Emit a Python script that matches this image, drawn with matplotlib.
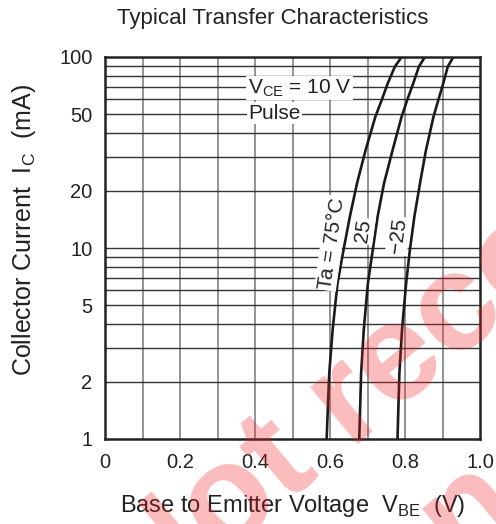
import matplotlib
matplotlib.use("Agg")
import matplotlib.pyplot as plt
from matplotlib.ticker import FixedLocator, NullFormatter

plt.rcParams['font.family'] = ['Liberation Sans', 'DejaVu Sans']

# I_C values (mA) where the curves were read
ic = [1, 2.21, 3.72, 6.53, 9.76, 14.6, 21.8, 32.6, 48.7, 59.6, 72.8, 89, 100]
# V_BE (V) for each temperature
vbe_75 = [0.591, 0.598, 0.607, 0.620, 0.636, 0.653, 0.672, 0.695, 0.721,
          0.738, 0.754, 0.773, 0.791]
vbe_25 = [0.678, 0.683, 0.690, 0.701, 0.714, 0.727, 0.744, 0.767, 0.791,
          0.806, 0.822, 0.837, 0.853]
vbe_m25 = [0.780, 0.785, 0.792, 0.803, 0.813, 0.825, 0.840, 0.856, 0.876,
           0.889, 0.902, 0.914, 0.929]

x_ticks = [0, 0.2, 0.4, 0.6, 0.8, 1.0]
x_ticklabels = ["0", "0.2", "0.4", "0.6", "0.8", "1.0"]
y_ticks = [1, 2, 5, 10, 20, 50, 100]
y_ticklabels = ["1", "2", "5", "10", "20", "50", "100"]

fig = plt.figure(figsize=(4.96, 5.24), dpi=100)
ax = fig.add_axes([105/496, 85/524, 375/496, 382/524])

ax.set_yscale("log")
ax.set_xlim(0, 1.0)
ax.set_ylim(1, 100)

# grid
for i in range(1, 10):
    ax.axvline(i * 0.1, color="#777777", lw=1.1, zorder=1)
for dec in [1, 10]:
    for m in range(1, 10):
        v = dec * m
        if 1 < v < 100:
            ax.axhline(v, color="#333333", lw=1.0, zorder=1)

for v in [vbe_75, vbe_25, vbe_m25]:
    ax.plot(v, ic, color="#1a1a1a", lw=1.9, zorder=3)

fs = 15
box = dict(facecolor="white", edgecolor="none", pad=1.0)
ax.text(0.381, 68.8, "V$_{\\mathregular{CE}}$ = 10 V", fontsize=fs,
        ha="left", va="center", bbox=box, zorder=4, color="#222222")
ax.text(0.383, 50.9, "Pulse", fontsize=fs, ha="left", va="center",
        bbox=box, zorder=4, color="#222222")
ax.text(0.604, 10.6, "Ta = 75°C", fontsize=fs, rotation=82,
        ha="center", va="center", bbox=box, zorder=4, color="#222222")
ax.text(0.688, 12.3, "25", fontsize=fs, rotation=82,
        ha="center", va="center", bbox=box, zorder=4, color="#222222")
ax.text(0.782, 11.6, "\u221225", fontsize=fs, rotation=82,
        ha="center", va="center", bbox=box, zorder=4, color="#222222")

ax.xaxis.set_major_locator(FixedLocator(x_ticks))
ax.set_xticklabels(x_ticklabels)
ax.yaxis.set_major_locator(FixedLocator(y_ticks))
ax.yaxis.set_minor_formatter(NullFormatter())
ax.set_yticklabels(y_ticklabels)
ax.tick_params(which="both", length=0, labelsize=14.5, colors="#222222")
ax.tick_params(axis="x", pad=10)
ax.tick_params(axis="y", pad=9)

for s in ax.spines.values():
    s.set_linewidth(1.8)
    s.set_color("#222222")
    s.set_zorder(5)

ax.set_xlabel("Base to Emitter Voltage  V$_{\\mathregular{BE}}$  (V)",
              fontsize=17, labelpad=15, color="#222222")
ax.set_ylabel("Collector Current  I$_{\\mathregular{C}}$  (mA)",
              fontsize=18, color="#222222", va="center")
ax.yaxis.set_label_coords(-0.216, 0.547)
fig.text(0.55, 0.965, "Typical Transfer Characteristics", fontsize=16,
         ha="center", va="center", color="#222222")

# watermark
wm = dict(fontsize=100, fontweight="bold", color="#f02020", alpha=0.3,
          rotation=40, rotation_mode="anchor", ha="left", va="baseline",
          zorder=10)
fig.text(144.5/496, 1 - 623/524, "Not recommended", **wm)
fig.text(291.5/496, 1 - 715/524, "for new design", **wm)

fig.savefig("out.png", dpi=100)
plt.close(fig)
